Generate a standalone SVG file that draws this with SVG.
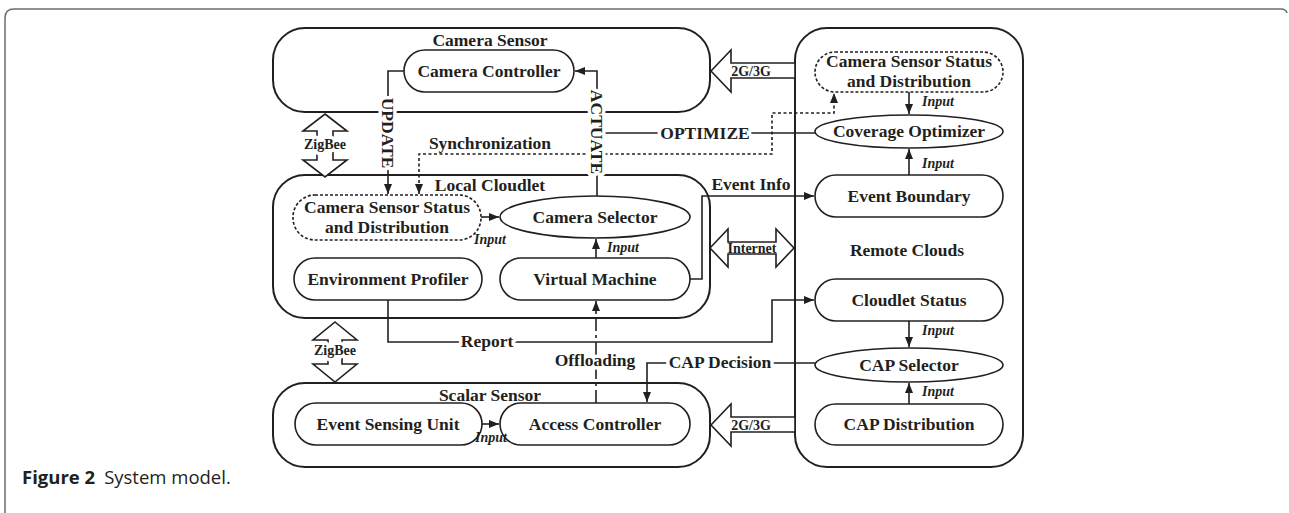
<svg xmlns="http://www.w3.org/2000/svg" width="1289" height="513" viewBox="0 0 1289 513">
<defs>
<marker id="ah" viewBox="0 0 10 8" refX="10" refY="4" markerWidth="10" markerHeight="8" markerUnits="userSpaceOnUse" orient="auto-start-reverse">
<path d="M0,0 L10,4 L0,8 z" fill="#231f20"/>
</marker>
<style>
.box{fill:none;stroke:#231f20;stroke-width:2}
.nd{fill:#fff;stroke:#231f20;stroke-width:1.6}
.dsh{fill:#fff;stroke:#231f20;stroke-width:1.6;stroke-dasharray:3 2}
.t{font-family:"Liberation Serif","Times New Roman",serif;font-weight:bold;font-size:17.5px;fill:#231f20;text-anchor:middle}
.s{font-size:14px}
.i{font-family:"Liberation Serif","Times New Roman",serif;font-weight:bold;font-style:italic;font-size:14px;fill:#231f20}
.h{stroke:#fff;stroke-width:7;paint-order:stroke;stroke-linejoin:round}
.c{fill:none;stroke:#231f20;stroke-width:1.6}
.dot{stroke-dasharray:3 2.5}
.dd{stroke-dasharray:13 4 3 4}
.fat{fill:#fff;stroke:#231f20;stroke-width:1.6;stroke-linejoin:miter}
</style>
</defs>
<rect width="1289" height="513" fill="#fff"/>
<path d="M5,513 V18 Q5,9 14,9 H1281 Q1286,9 1287,13" fill="none" stroke="#6d6e71" stroke-width="1.5"/>
<text x="22" y="484" font-family="'Open Sans',sans-serif" font-size="18.5" fill="#231f20"><tspan font-weight="bold">Figure 2</tspan><tspan dx="9">System model.</tspan></text>

<g id="camera-sensor">
<rect class="box" x="273" y="28" width="437" height="84" rx="32"/>
<text class="t" x="490" y="46">Camera Sensor</text>
</g>
<g id="local-cloudlet">
<rect class="box" x="273" y="175" width="437" height="143" rx="32"/>
<text class="t" x="490" y="191">Local Cloudlet</text>
</g>
<g id="scalar-sensor">
<rect class="box" x="273" y="383" width="437" height="84" rx="32"/>
<text class="t" x="490" y="401">Scalar Sensor</text>
</g>
<g id="remote-clouds">
<rect class="box" x="795" y="28" width="228" height="439" rx="32"/>
<text class="t" x="907" y="256">Remote Clouds</text>
</g>

<g id="zigbee-top">
<polygon class="fat" points="325,114 347,131 333,131 333,160 347,160 325,177 303,160 317,160 317,131 303,131"/>
<text class="t s h" x="325" y="149">ZigBee</text>
</g>
<g id="zigbee-bottom">
<polygon class="fat" points="335,322 357,340 342,340 342,364 357,364 335,382 313,364 328,364 328,340 313,340"/>
<text class="t s h" x="335" y="355">ZigBee</text>
</g>
<g id="net-top">
<polygon class="fat" points="711,71 731,50 731,63 795,63 795,78 731,78 731,92"/>
<text class="t s" x="751" y="76">2G/3G</text>
</g>
<g id="net-bottom">
<polygon class="fat" points="711,425 731,404 731,417 795,417 795,432 731,432 731,446"/>
<text class="t s" x="751" y="430">2G/3G</text>
</g>
<g id="internet">
<polygon class="fat" points="710,248 728,229 728,242 776,242 776,229 794,248 776,267 776,254 728,254 728,267"/>
<text class="t s" x="752" y="253">Internet</text>
</g>

<g id="camera-controller">
<rect class="nd" x="404" y="50" width="170" height="42" rx="21"/>
<text class="t" x="489" y="77">Camera Controller</text>
</g>
<g id="local-css">
<rect class="dsh" x="293" y="195" width="188" height="45" rx="22"/>
<text class="t" x="387" y="213">Camera Sensor Status</text>
<text class="t" x="387" y="233">and Distribution</text>
</g>
<g id="camera-selector">
<ellipse class="nd" cx="595" cy="217" rx="95" ry="21"/>
<text class="t" x="595" y="223">Camera Selector</text>
</g>
<g id="environment-profiler">
<rect class="nd" x="294" y="258" width="188" height="42" rx="21"/>
<text class="t" x="388" y="285">Environment Profiler</text>
</g>
<g id="virtual-machine">
<rect class="nd" x="500" y="258" width="190" height="42" rx="21"/>
<text class="t" x="595" y="285">Virtual Machine</text>
</g>
<g id="event-sensing-unit">
<rect class="nd" x="295" y="403" width="187" height="42" rx="21"/>
<text class="t" x="388" y="430">Event Sensing Unit</text>
</g>
<g id="access-controller">
<rect class="nd" x="500" y="403" width="190" height="42" rx="21"/>
<text class="t" x="595" y="430">Access Controller</text>
</g>
<g id="remote-css">
<rect class="dsh" x="815" y="52" width="188" height="40" rx="20"/>
<text class="t" x="909" y="67">Camera Sensor Status</text>
<text class="t" x="909" y="87">and Distribution</text>
</g>
<g id="coverage-optimizer">
<ellipse class="nd" cx="909" cy="131.5" rx="94" ry="16.5"/>
<text class="t" x="909" y="137">Coverage Optimizer</text>
</g>
<g id="event-boundary">
<rect class="nd" x="815" y="175" width="188" height="42" rx="21"/>
<text class="t" x="909" y="202">Event Boundary</text>
</g>
<g id="cloudlet-status">
<rect class="nd" x="815" y="279" width="188" height="42" rx="21"/>
<text class="t" x="909" y="306">Cloudlet Status</text>
</g>
<g id="cap-selector">
<ellipse class="nd" cx="909" cy="365" rx="94" ry="17"/>
<text class="t" x="909" y="371">CAP Selector</text>
</g>
<g id="cap-distribution">
<rect class="nd" x="815" y="404" width="188" height="41" rx="20.5"/>
<text class="t" x="909" y="430">CAP Distribution</text>
</g>

<g id="connectors">
<path class="c" d="M404,71 H388 V194" marker-end="url(#ah)"/>
<path class="c" d="M597,196 V71 H575" marker-end="url(#ah)"/>
<path class="c" d="M597,133 H815"/>
<path class="c dot" d="M419,194 V154 H772 V113 H834 V93" marker-start="url(#ah)" marker-end="url(#ah)"/>
<path class="c" d="M481,217 H499" marker-end="url(#ah)"/>
<path class="c" d="M596,258 V239" marker-end="url(#ah)"/>
<path class="c" d="M690,279 H702 V196 H814" marker-end="url(#ah)"/>
<path class="c dd" d="M596,403 V301" marker-end="url(#ah)"/>
<path class="c" d="M388,300 V342 H772 V300 H814" marker-end="url(#ah)"/>
<path class="c" d="M815,363 H647 V402" marker-end="url(#ah)"/>
<path class="c" d="M482,424 H499" marker-end="url(#ah)"/>
<path class="c" d="M909,92 V114" marker-end="url(#ah)"/>
<path class="c" d="M909,175 V149" marker-end="url(#ah)"/>
<path class="c" d="M909,321 V347" marker-end="url(#ah)"/>
<path class="c" d="M909,404 V383" marker-end="url(#ah)"/>
<text class="t h" transform="translate(388,133) rotate(90)" y="6">UPDATE</text>
<text class="t h" transform="translate(597,132) rotate(90)" y="6">ACTUATE</text>
<text class="t h" x="705" y="139">OPTIMIZE</text>
<text class="t" x="490" y="149">Synchronization</text>
<text class="t" x="751" y="190">Event Info</text>
<text class="t h" x="595" y="366">Offloading</text>
<text class="t h" x="487" y="347">Report</text>
<text class="t h" x="720" y="368">CAP Decision</text>
<text class="i" x="922" y="106">Input</text>
<text class="i" x="922" y="168">Input</text>
<text class="i" x="922" y="335">Input</text>
<text class="i" x="922" y="396">Input</text>
<text class="i" x="474" y="244">Input</text>
<text class="i" x="607" y="252">Input</text>
<text class="i" x="475" y="442">Input</text>
</g>
</svg>
